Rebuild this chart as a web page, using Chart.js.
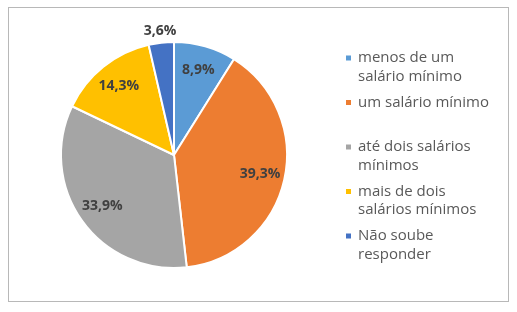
<!DOCTYPE html>
<html><head><meta charset="utf-8">
<script src="https://cdn.jsdelivr.net/npm/chart.js@4"></script>
<style>
html,body{margin:0;padding:0;background:#fff;}
#frame{position:absolute;left:8px;top:7px;width:499px;height:293px;border:1px solid #B8B8B8;}
#wrap{position:absolute;left:0;top:0;width:517px;height:312px;}
</style></head><body>
<div id="frame"></div>
<div id="wrap"><canvas id="c" width="517" height="312"></canvas></div>
<script>
// Data
const categories = [
  ["menos de um", "salário mínimo"],
  ["um salário mínimo"],
  ["até dois salários", "mínimos"],
  ["mais de dois", "salários mínimos"],
  ["Não soube", "responder"]
];
const shares = [8.9, 39.3, 33.9, 14.3, 3.6];
const sliceColors = ['#5B9BD5', '#ED7D31', '#A5A5A5', '#FFC000', '#4472C4'];

const fmt = v => v.toFixed(1).replace('.', ',') + '%';

const valueLabels = {
  id: 'valueLabels',
  afterDatasetsDraw(chart, args, opts) {
    const ctx = chart.ctx;
    const meta = chart.getDatasetMeta(0);
    ctx.save();
    ctx.font = opts.font;
    ctx.fillStyle = opts.color;
    ctx.textAlign = 'center';
    ctx.textBaseline = 'middle';
    meta.data.forEach((arc, i) => {
      const v = chart.data.datasets[0].data[i];
      const mid = (arc.startAngle + arc.endAngle) / 2;
      const ratio = v < opts.outsideBelow ? opts.outsideRatio : opts.insideRatio;
      const r = arc.outerRadius * ratio;
      ctx.fillText(fmt(v), arc.x + Math.cos(mid) * r, arc.y + Math.sin(mid) * r);
    });
    ctx.restore();
  }
};

const sideLegend = {
  id: 'sideLegend',
  afterDraw(chart, args, opts) {
    const ctx = chart.ctx;
    const colors = chart.data.datasets[0].backgroundColor;
    ctx.save();
    ctx.font = opts.font;
    ctx.textBaseline = 'middle';
    ctx.textAlign = 'left';
    chart.data.labels.forEach((lines, i) => {
      const y0 = opts.top + i * opts.slot;
      ctx.fillStyle = colors[i];
      ctx.fillRect(opts.left, y0 - opts.box / 2, opts.box, opts.box);
      ctx.fillStyle = opts.color;
      lines.forEach((t, j) => ctx.fillText(t, opts.left + opts.box + opts.gap, y0 + j * opts.lineHeight));
    });
    ctx.restore();
  }
};

new Chart(document.getElementById('c'), {
  type: 'pie',
  data: {
    labels: categories,
    datasets: [{
      data: shares,
      backgroundColor: sliceColors,
      borderColor: '#FFFFFF',
      borderWidth: 2
    }]
  },
  options: {
    responsive: false,
    animation: false,
    events: [],
    layout: { padding: { left: 60, top: 41, right: 229, bottom: 43 } },
    plugins: {
      legend: { display: false },
      tooltip: { enabled: false },
      valueLabels: { font: 'bold 14px "Open Sans"', color: '#404040', insideRatio: 0.78, outsideRatio: 1.1, outsideBelow: 5 },
      sideLegend: { font: '15px "Open Sans"', color: '#595959', left: 346, top: 58, slot: 44.5, lineHeight: 18.5, box: 5, gap: 7 }
    }
  },
  plugins: [valueLabels, sideLegend]
});
</script>
</body></html>
